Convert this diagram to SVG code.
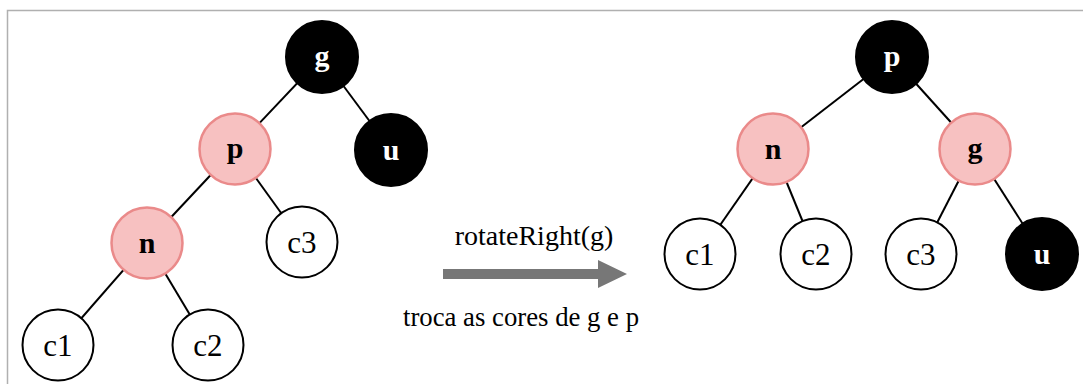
<svg xmlns="http://www.w3.org/2000/svg" width="1083" height="384" viewBox="0 0 1083 384">
<style>
.b{fill:#000;stroke:#000;stroke-width:2}
.r{fill:#f7c1c1;stroke:#ea8a8a;stroke-width:2.5}
.w{fill:#fff;stroke:#000;stroke-width:2}
text{font-family:'Liberation Serif','Times New Roman',Times,'DejaVu Serif',serif}
.lb{font-weight:bold;font-size:30px;text-anchor:middle}
.lw{fill:#fff}
.lc{font-size:31px;text-anchor:middle;fill:#000}
.t{font-size:28px;text-anchor:middle;fill:#000}
.e{stroke:#000;stroke-width:2}
</style>
<rect x="0" y="0" width="1083" height="384" fill="#fff"/>
<path d="M7.5 384 V10.5 H1083" fill="none" stroke="#b0b0b0" stroke-width="1.5"/>
<g id="edges">
<line class="e" x1="322" y1="57" x2="235" y2="149"/>
<line class="e" x1="322" y1="57" x2="391" y2="150"/>
<line class="e" x1="235" y1="149" x2="147" y2="243"/>
<line class="e" x1="235" y1="149" x2="302" y2="242"/>
<line class="e" x1="147" y1="243" x2="58" y2="345"/>
<line class="e" x1="147" y1="243" x2="208" y2="345"/>
<line class="e" x1="892" y1="57" x2="773" y2="149"/>
<line class="e" x1="892" y1="57" x2="975" y2="149"/>
<line class="e" x1="773" y1="149" x2="700" y2="254"/>
<line class="e" x1="773" y1="149" x2="816" y2="254"/>
<line class="e" x1="975" y1="149" x2="921" y2="254"/>
<line class="e" x1="975" y1="149" x2="1042" y2="254"/>
</g>
<g id="L_g"><circle class="b" cx="322" cy="57" r="36"/><text class="lb lw" x="322" y="66">g</text></g>
<g id="L_p"><circle class="r" cx="235" cy="149" r="35.5"/><text class="lb" x="235" y="158">p</text></g>
<g id="L_u"><circle class="b" cx="391" cy="150" r="36"/><text class="lb lw" x="391" y="160">u</text></g>
<g id="L_n"><circle class="r" cx="147" cy="243" r="35.5"/><text class="lb" x="147" y="253">n</text></g>
<g id="L_c3"><circle class="w" cx="302" cy="242" r="35.5"/><text class="lc" x="302" y="253">c3</text></g>
<g id="L_c1"><circle class="w" cx="58" cy="345" r="35.5"/><text class="lc" x="58" y="356">c1</text></g>
<g id="L_c2"><circle class="w" cx="208" cy="345" r="35.5"/><text class="lc" x="208" y="356">c2</text></g>
<g id="R_p"><circle class="b" cx="892" cy="57" r="36"/><text class="lb lw" x="892" y="66">p</text></g>
<g id="R_n"><circle class="r" cx="773" cy="149" r="35.5"/><text class="lb" x="773" y="159">n</text></g>
<g id="R_g"><circle class="r" cx="975" cy="149" r="35.5"/><text class="lb" x="975" y="158">g</text></g>
<g id="R_c1"><circle class="w" cx="700" cy="254" r="35.5"/><text class="lc" x="700" y="265">c1</text></g>
<g id="R_c2"><circle class="w" cx="816" cy="254" r="35.5"/><text class="lc" x="816" y="265">c2</text></g>
<g id="R_c3"><circle class="w" cx="921" cy="254" r="35.5"/><text class="lc" x="921" y="265">c3</text></g>
<g id="R_u"><circle class="b" cx="1042" cy="254" r="36"/><text class="lb lw" x="1042" y="264">u</text></g>
<g id="arrow">
<polygon points="443,269 598,269 598,260 627,274 598,288 598,279 443,279" fill="#777"/>
<text class="t" x="534" y="245">rotateRight(g)</text>
<text class="t" x="521" y="326" textLength="236" lengthAdjust="spacingAndGlyphs">troca as cores de g e p</text>
</g>
</svg>
